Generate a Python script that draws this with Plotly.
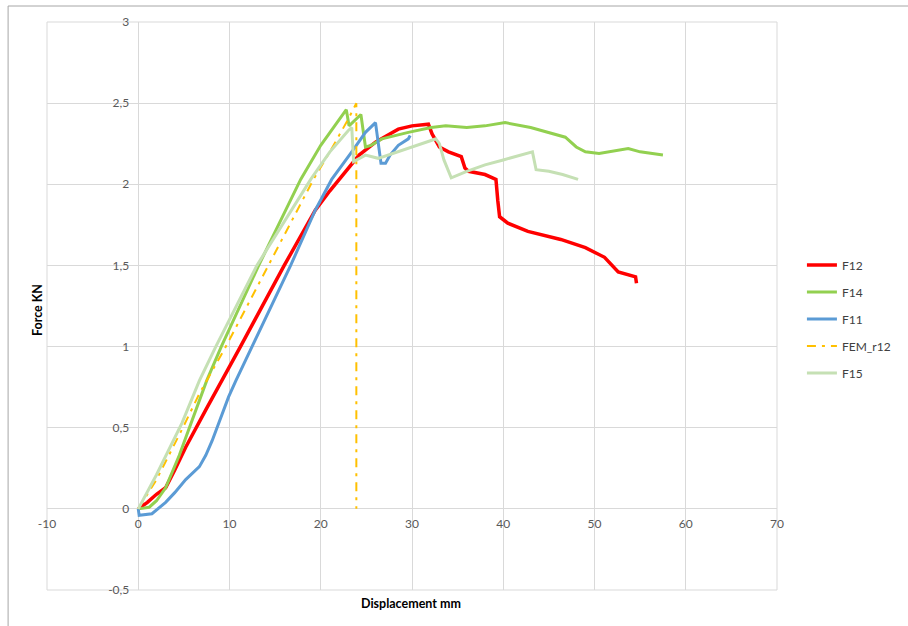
import plotly.graph_objects as go

# ---- data ----
f12_x = [0, 1, 2, 3, 4, 5.2, 7.4, 9.2, 11.2, 16, 19.4, 21, 22.3, 24.2, 26, 28.5, 30, 31.8, 32.2, 33, 34, 35.4, 35.8, 36.2, 38, 39.2, 39.4, 39.6, 40.5, 42.7, 46.3, 49, 51.1, 52.6, 54.5, 54.6]
f12_y = [0, 0.04, 0.09, 0.13, 0.24, 0.38, 0.61, 0.8, 1.0, 1.5, 1.84, 1.96, 2.05, 2.18, 2.26, 2.34, 2.36, 2.37, 2.31, 2.23, 2.2, 2.17, 2.1, 2.08, 2.06, 2.03, 1.9, 1.8, 1.76, 1.71, 1.66, 1.61, 1.55, 1.46, 1.43, 1.39]

f14_x = [0, 1.2, 2, 3, 4.5, 6, 7.5, 9.1, 13.2, 17.8, 20, 22.8, 23.1, 24.4, 24.9, 25.5, 26.7, 29.6, 32.1, 33.7, 36, 38, 40.2, 43, 45, 46.8, 48, 49, 50.5, 52.6, 53.7, 55, 57.5]
f14_y = [0, 0.01, 0.05, 0.13, 0.33, 0.56, 0.79, 1.0, 1.5, 2.03, 2.24, 2.46, 2.36, 2.43, 2.23, 2.24, 2.28, 2.32, 2.35, 2.36, 2.35, 2.36, 2.38, 2.35, 2.32, 2.29, 2.23, 2.2, 2.19, 2.21, 2.22, 2.2, 2.18]

f11_x = [0, 0.1, 1.5, 2.2, 3, 4, 5.2, 6.7, 7.4, 8.1, 9, 9.9, 10.7, 12.5, 16.7, 19.4, 21.2, 23.4, 24.9, 26, 26.3, 26.6, 27.1, 27.6, 28.5, 29.6, 29.8]
f11_y = [0, -0.04, -0.03, 0.0, 0.04, 0.1, 0.18, 0.26, 0.33, 0.42, 0.56, 0.69, 0.79, 1.0, 1.5, 1.84, 2.03, 2.2, 2.32, 2.38, 2.25, 2.13, 2.13, 2.18, 2.24, 2.28, 2.3]

fem_x = [0, 2, 4.8, 6.7, 9.6, 14.3, 19.2, 21, 23, 23.9, 23.9]
fem_y = [0, 0.18, 0.49, 0.71, 1.0, 1.5, 2.03, 2.2, 2.4, 2.5, 0]

f15_x = [0, 2, 4.8, 6.7, 8.5, 13, 18.9, 21, 23, 23.4, 23.6, 24.9, 26.3, 28.5, 30, 32.1, 32.6, 33, 33.5, 34.3, 36, 38, 40, 42, 43.2, 43.6, 45, 46.5, 48.2]
f15_y = [0, 0.21, 0.53, 0.79, 1.0, 1.5, 2.03, 2.2, 2.33, 2.35, 2.14, 2.18, 2.16, 2.2, 2.23, 2.27, 2.28, 2.25, 2.15, 2.04, 2.08, 2.12, 2.15, 2.18, 2.2, 2.09, 2.08, 2.06, 2.03]

x_ticks = [-10, 0, 10, 20, 30, 40, 50, 60, 70]
x_tick_text = ["-10", "0", "10", "20", "30", "40", "50", "60", "70"]
y_ticks = [-0.5, 0, 0.5, 1, 1.5, 2, 2.5, 3]
y_tick_text = ["-0,5", "0", "0,5", "1", "1,5", "2", "2,5", "3"]

series = [
    ("F12", f12_x, f12_y, "#FF0000", 3.5, "solid"),
    ("F14", f14_x, f14_y, "#92D050", 3, "solid"),
    ("F11", f11_x, f11_y, "#5B9BD5", 3, "solid"),
    ("FEM_r12", fem_x, fem_y, "#FFC000", 2, "9px,6px,3px,6px"),
    ("F15", f15_x, f15_y, "#C5E0B4", 3, "solid"),
]

FONT = "Lato, 'Open Sans', sans-serif"

fig = go.Figure()
for name, xs, ys, col, w, dash in series:
    fig.add_trace(go.Scatter(x=xs, y=ys, mode="lines", name=name, legendgroup=name,
                             line=dict(color=col, width=w, dash=dash)))

W, H = 908, 626
L, R, T, B = 47, 129, 22, 36
pw, ph = W - L - R, H - T - B

x_pos_paper = (0 - (-0.5)) / 3.5  # y=0 line
y_pos_paper = (0 - (-10)) / 80.0  # x=0 line

fig.update_layout(
    width=W, height=H,
    margin=dict(l=L, r=R, t=T, b=B),
    paper_bgcolor="white", plot_bgcolor="white",
    font=dict(family=FONT, size=12, color="#595959"),
    showlegend=True,
    legend=dict(x=(804 - L) / pw, y=(590 - 319) / ph, xanchor="left", yanchor="middle",
                font=dict(family=FONT, size=12, color="#404040"),
                tracegroupgap=8, bgcolor="rgba(0,0,0,0)"),
    xaxis=dict(range=[-10, 70], tickvals=x_ticks, ticktext=x_tick_text,
               showgrid=True, gridcolor="#D9D9D9", gridwidth=1, zeroline=False,
               showline=False, anchor="free", position=x_pos_paper,
               ticks="", ticklabelstandoff=6, automargin=False,
               tickfont=dict(family=FONT, size=12, color="#595959")),
    yaxis=dict(range=[-0.5, 3], tickvals=y_ticks, ticktext=y_tick_text,
               showgrid=True, gridcolor="#D9D9D9", gridwidth=1, zeroline=False,
               showline=False, anchor="free", position=y_pos_paper,
               ticks="", ticklabelstandoff=9, automargin=False,
               tickfont=dict(family=FONT, size=12, color="#595959")),
    shapes=[
        dict(type="rect", xref="paper", yref="paper", x0=0, x1=1, y0=0, y1=1,
             line=dict(color="#D9D9D9", width=1), layer="below"),
        dict(type="rect", xref="paper", yref="paper",
             x0=(8 - L) / pw, x1=(920 - L) / pw, y0=(590 - 640) / ph, y1=(590 - 6) / ph,
             line=dict(color="#A6A6A6", width=1), layer="below"),
    ],
    annotations=[
        dict(text="<b>Force KN</b>", xref="paper", yref="paper",
             x=(37 - L) / pw, y=(590 - 310) / ph, textangle=-90, showarrow=False,
             xanchor="center", yanchor="middle",
             font=dict(family=FONT, size=12.5, color="#000000")),
        dict(text="<b>Displacement mm</b>", xref="paper", yref="paper",
             x=(412 - L) / pw, y=(590 - 603) / ph, showarrow=False,
             xanchor="center", yanchor="middle",
             font=dict(family=FONT, size=12.5, color="#000000")),
    ],
)

fig.write_html("out.html")
